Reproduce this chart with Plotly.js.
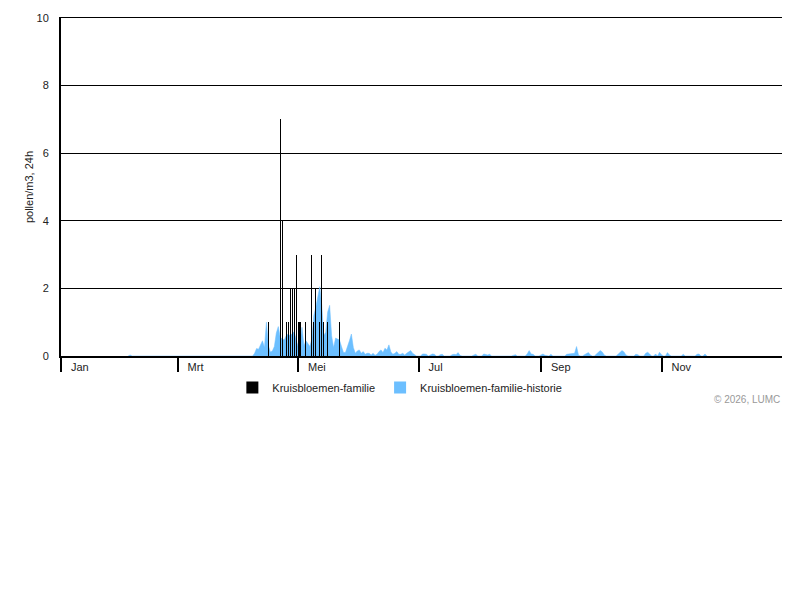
<!DOCTYPE html>
<html>
<head>
<meta charset="utf-8">
<script src="https://cdn.plot.ly/plotly-3.0.1.min.js"></script>
<style>
html, body {margin:0; padding:0; background:#fff;}
#chart {width:800px; height:600px;}
</style>
</head>
<body>
<div id="chart"></div>
<script>
var YEAR = 2026;

// month ticks (day of year of the 1st) and their Dutch labels
var monthDays = [0, 59, 120, 181, 243, 304];
var monthLabels = ['Jan', 'Mrt', 'Mei', 'Jul', 'Sep', 'Nov'];

// measured daily counts: day of year -> pollen/m3
var pollenDays = [105, 111, 112, 114, 115, 116, 117, 118, 119, 120, 121, 124, 127, 128, 129, 131, 132, 133, 135, 141];
var pollenValues = [1, 7, 4, 1, 1, 2, 2, 2, 3, 1, 1, 1, 3, 1, 2, 1, 3, 1, 1, 1];

// historic average: day of year -> pollen/m3
var histDays = [34, 35, 36,
	97, 98, 99, 100, 101, 102, 103, 104, 105, 106, 107, 108, 109, 110, 111, 112, 113, 114, 115, 116, 117, 118, 119,
	120, 121, 122, 123, 124, 125, 126, 127, 128, 129, 130, 131, 132, 133, 134, 135, 136, 137, 138, 139,
	140, 141, 142, 143, 144, 145, 146, 147, 148, 149, 150, 151, 152, 153, 154, 155, 156, 157, 158, 159,
	160, 161, 162, 163, 164, 165, 166, 167, 168, 169, 170, 171, 172, 173, 174, 175, 176, 177, 178, 179, 180,
	182, 183, 184, 185, 186, 187, 188, 189, 190, 191, 192, 193, 194,
	197, 198, 199, 200, 201, 202, 203, 208, 209, 210, 211, 213, 214, 215, 216, 217, 218,
	228, 229, 230, 231, 235, 236, 237, 238, 239, 240, 242, 243, 244, 245, 246, 247, 248, 249,
	255, 256, 257, 258, 259, 260, 261, 262, 263, 264, 265, 266, 267, 268, 269,
	270, 271, 272, 273, 274, 275, 276, 281, 282, 283, 284, 285, 286, 287,
	290, 291, 292, 293, 295, 296, 297, 298, 299, 300, 301, 302, 303, 304, 305, 306, 307, 308, 309,
	314, 315, 316, 321, 322, 323, 324, 325, 326, 327];
var histValues = [0, 0.03, 0,
	0, 0.08, 0.22, 0.2, 0.33, 0.45, 0.25, 1.0, 0.3, 0.12, 0.15, 0.28, 0.68, 0.87, 0.55, 0.5, 0.47, 0.6, 0.65, 0.6, 0.65, 0.72, 0.5,
	0.28, 0.4, 0.85, 0.3, 0.45, 0.37, 0.28, 0.5, 1.2, 1.45, 1.8, 2.05, 1.5, 0.6, 0.7, 1.3, 1.5, 0.6, 0.25, 0.53,
	0.5, 0.47, 0.28, 0.1, 0.1, 0.25, 0.45, 0.65, 0.25, 0.08, 0.15, 0.18, 0.08, 0.13, 0.05, 0.08, 0.08, 0.03, 0.08, 0.02,
	0.05, 0.13, 0.18, 0.1, 0.23, 0.18, 0.33, 0.12, 0.05, 0.08, 0.13, 0.05, 0.05, 0.08, 0.03, 0.08, 0.13, 0.16, 0.08, 0.04, 0,
	0, 0.06, 0.06, 0.05, 0, 0.03, 0.06, 0.05, 0, 0, 0.04, 0.05, 0,
	0, 0.04, 0.05, 0.04, 0.1, 0.02, 0, 0, 0.03, 0.05, 0, 0, 0.06, 0.05, 0.03, 0.05, 0,
	0, 0.03, 0.04, 0, 0, 0.06, 0.16, 0.06, 0.05, 0, 0, 0.03, 0.06, 0.02, 0, 0, 0.05, 0,
	0, 0.05, 0.06, 0.06, 0.06, 0.08, 0.28, 0.02, 0, 0, 0.04, 0.08, 0.1, 0.03, 0,
	0, 0.06, 0.11, 0.16, 0.12, 0.03, 0, 0, 0.05, 0.1, 0.16, 0.12, 0.03, 0,
	0, 0.05, 0.04, 0, 0, 0.08, 0.11, 0.06, 0, 0, 0.06, 0, 0.11, 0.04, 0, 0, 0.1, 0.03, 0,
	0, 0.05, 0, 0, 0.05, 0.06, 0, 0, 0.06, 0];

var dayToDate = function(d){
	var dt = new Date(Date.UTC(YEAR, 0, 1 + d));
	return dt.toISOString().substring(0, 10);
};

var FONT = 'Liberation Sans, Arial, sans-serif';
var BLUE = '#6cbfff';
var xRange = [dayToDate(0), dayToDate(365)];

var histTrace = {
	name: 'Kruisbloemen-familie-historie',
	legendgroup: 'hist',
	showlegend: false,
	type: 'scatter',
	mode: 'lines',
	x: histDays.map(dayToDate),
	y: histValues,
	fill: 'tozeroy',
	fillcolor: BLUE,
	line: {color: BLUE, width: 0.5},
	hoverinfo: 'skip'
};

// empty bar only to get a square legend key for the area
var histKey = {
	name: 'Kruisbloemen-familie-historie',
	legendgroup: 'hist',
	type: 'bar',
	x: [null],
	y: [null],
	marker: {color: BLUE},
	xaxis: 'x2',
	yaxis: 'y2'
};

// bars on an overlaying subplot so they are drawn above the area
var pollenTrace = {
	name: 'Kruisbloemen-familie',
	type: 'bar',
	x: pollenDays.map(dayToDate),
	y: pollenValues,
	width: 0.55 * 86400000,
	marker: {color: '#000000', line: {width: 0}},
	xaxis: 'x2',
	yaxis: 'y2'
};

var layout = {
	width: 800,
	height: 600,
	margin: {l: 61, r: 18, t: 18, b: 244},
	paper_bgcolor: '#ffffff',
	plot_bgcolor: '#ffffff',
	font: {family: FONT, size: 11, color: '#222'},
	showlegend: true,
	bargap: 0,
	xaxis: {
		type: 'date',
		range: xRange,
		tickmode: 'array',
		tickvals: monthDays.map(dayToDate),
		ticktext: monthLabels,
		ticks: 'outside',
		ticklen: 14,
		tickwidth: 2,
		tickcolor: '#000',
		ticklabelposition: 'outside right',
		ticklabelshift: 8,
		ticklabelstandoff: 0,
		showline: true,
		linewidth: 2,
		linecolor: '#000',
		showgrid: false,
		zeroline: false,
		tickfont: {size: 11, color: '#222'},
		fixedrange: true
	},
	yaxis: {
		range: [0, 10],
		tick0: 0,
		dtick: 2,
		showline: true,
		linewidth: 2,
		linecolor: '#000',
		showgrid: true,
		gridcolor: '#000',
		gridwidth: 1,
		zeroline: false,
		ticks: '',
		ticklabelstandoff: 8,
		tickfont: {size: 11, color: '#222'},
		title: {text: 'pollen/m3, 24h', font: {size: 11, color: '#222'}, standoff: 1},
		fixedrange: true
	},
	// top edge line at 10
	xaxis2: {type: 'date', range: xRange, overlaying: 'x', side: 'top', showline: true, linewidth: 1,
		linecolor: '#000', showticklabels: false, ticks: '', showgrid: false, zeroline: false, fixedrange: true},
	yaxis2: {range: [0, 10], overlaying: 'y', visible: false, fixedrange: true},
	legend: {
		orientation: 'h',
		x: 0.47,
		xanchor: 'center',
		y: -0.05,
		yanchor: 'top',
		itemwidth: 30,
		font: {size: 11, color: '#222'},
		traceorder: 'normal'
	},
	annotations: [{
		text: '\u00a9 2026, LUMC',
		xref: 'paper',
		yref: 'paper',
		x: 1,
		xanchor: 'right',
		y: -0.128,
		yanchor: 'middle',
		showarrow: false,
		font: {size: 10, color: '#999'}
	}]
};

Plotly.newPlot('chart', [pollenTrace, histKey, histTrace], layout, {displayModeBar: false, staticPlot: true});
</script>
</body>
</html>
